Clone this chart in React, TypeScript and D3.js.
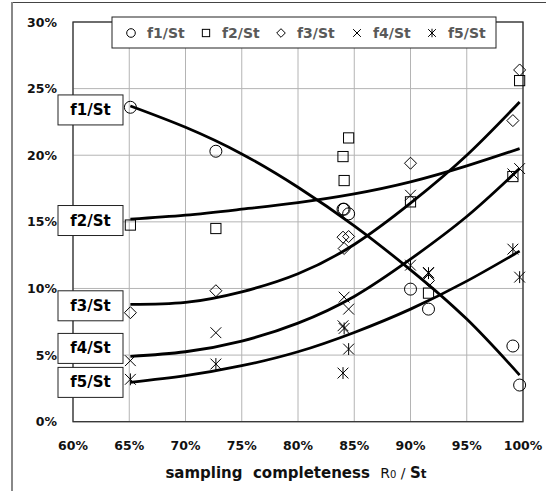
import * as d3 from 'd3';

// sample positions (sampling completeness, %)
const samples = [65.1, 72.7, 84.0, 84.1, 84.5, 90.0, 91.6, 99.1, 99.7];
const f1 = [23.6, 20.3, 15.95, 15.95, 15.6, 9.95, 8.45, 5.68, 2.75];
const f2 = [14.76, 14.5, 19.9, 18.1, 21.3, 16.5, 9.65, 18.4, 25.6];
const f3 = [8.18, 9.83, 13.85, 13.0, 13.9, 19.4, 10.6, 22.6, 26.4];
const f4 = [4.58, 6.68, 7.2, 9.35, 8.45, 17.0, 11.2, 18.6, 19.0];
const f5 = [3.18, 4.33, 3.65, 7.0, 5.45, 11.75, 11.15, 12.95, 10.85];

// trend curves
const trendX = [65.1, 70, 75, 80, 85, 90, 95, 99.7];
const t1 = [23.7, 22.1, 20.1, 17.6, 14.7, 11.4, 7.7, 3.5];
const t2 = [15.2, 15.5, 15.95, 16.45, 17.1, 18.0, 19.2, 20.5];
const t3 = [8.8, 8.95, 9.75, 11.1, 13.3, 16.4, 20.0, 24.0];
const t4 = [4.9, 5.25, 6.05, 7.4, 9.4, 12.2, 15.4, 19.0];
const t5 = [2.95, 3.45, 4.2, 5.25, 6.7, 8.45, 10.55, 12.8];

const seriesNames = ['f1/St', 'f2/St', 'f3/St', 'f4/St', 'f5/St'];
const markerKinds = ['circle', 'square', 'diamond', 'cross', 'star'];
const labelAt = [23.4, 15.1, 8.7, 5.5, 2.95];

const xTicks = [60, 65, 70, 75, 80, 85, 90, 95, 100];
const yTicks = [0, 5, 10, 15, 20, 25, 30];

const W = 546;
const H = 491;
const m = { left: 73, right: 23, top: 22, bottom: 69 };
const FONT = 'DejaVu Sans, sans-serif';

const Marker = ({ kind, x, y, s }: { kind: string; x: number; y: number; s: number }) => {
  const p = { stroke: '#000', strokeWidth: 1, fill: 'none' };
  if (kind === 'circle') return <circle cx={x} cy={y} r={s} {...p} />;
  if (kind === 'square')
    return <rect x={x - s * 0.85} y={y - s * 0.85} width={s * 1.7} height={s * 1.7} {...p} />;
  if (kind === 'diamond')
    return <path d={`M${x},${y - s}L${x + s},${y}L${x},${y + s}L${x - s},${y}Z`} {...p} />;
  const d = s * 0.9;
  const xs = `M${x - d},${y - d}L${x + d},${y + d}M${x - d},${y + d}L${x + d},${y - d}`;
  if (kind === 'cross') return <path d={xs} {...p} />;
  return <path d={`${xs}M${x},${y - d * 1.1}L${x},${y + d * 1.1}`} {...p} />;
};

export default function App() {
  const x = d3.scaleLinear().domain([60, 100]).range([m.left, W - m.right]);
  const y = d3.scaleLinear().domain([0, 30]).range([H - m.bottom - 0.3, m.top]);
  const points = [f1, f2, f3, f4, f5];
  const trends = [t1, t2, t3, t4, t5];
  const line = d3
    .line<number>()
    .x((_, i) => x(trendX[i]))
    .y((v) => y(v))
    .curve(d3.curveNatural);

  const legendX = [131, 206, 281, 357, 432];

  return (
    <svg width={W} height={H} style={{ position: 'absolute', left: 0, top: 0, background: '#fff' }}>
      {/* outer frame */}
      <line x1={12} x2={W} y1={2.5} y2={2.5} stroke="#444" strokeWidth={1.2} />
      <line x1={12} x2={12} y1={2} y2={H} stroke="#888" strokeWidth={2} />

      {/* grid */}
      {xTicks.map((t) => (
        <line key={'gx' + t} x1={x(t)} x2={x(t)} y1={y(0)} y2={y(30)} stroke="#b4b4b4" strokeWidth={1} />
      ))}
      {yTicks.map((t) => (
        <line key={'gy' + t} x1={x(60)} x2={x(100)} y1={y(t)} y2={y(t)} stroke="#b4b4b4" strokeWidth={1} />
      ))}
      <rect
        x={x(60)}
        y={y(30)}
        width={x(100) - x(60)}
        height={y(0) - y(30)}
        fill="none"
        stroke="#333"
        strokeWidth={1.3}
      />

      {/* tick labels */}
      {yTicks.map((t) => (
        <text
          key={'yl' + t}
          x={57}
          y={y(t)}
          textAnchor="end"
          dominantBaseline="central"
          fontFamily={FONT}
          fontWeight="bold"
          fontSize={12.5}
          fill="#111"
        >
          {t}%
        </text>
      ))}
      {xTicks.map((t) => (
        <text
          key={'xl' + t}
          x={x(t)}
          y={445}
          textAnchor="middle"
          dominantBaseline="central"
          fontFamily={FONT}
          fontWeight="bold"
          fontSize={12.5}
          fill="#111"
        >
          {t}%
        </text>
      ))}

      {/* axis title */}
      <text x={296} y={478} textAnchor="middle" fontFamily={FONT} fill="#111" style={{ whiteSpace: 'pre' }}>
        <tspan fontWeight="bold" fontSize={15}>
          {'sampling  completeness  '}
        </tspan>
        <tspan fontSize={14}>R</tspan>
        <tspan fontSize={10}>0</tspan>
        <tspan fontSize={14}>{' / '}</tspan>
        <tspan fontWeight="bold" fontSize={15}>
          S
        </tspan>
        <tspan fontWeight="bold" fontSize={12}>
          t
        </tspan>
      </text>

      {/* trend lines */}
      {trends.map((t, i) => (
        <path key={'t' + i} d={line(t) ?? ''} fill="none" stroke="#000" strokeWidth={2.8} />
      ))}

      {/* data markers */}
      {points.map((vals, si) =>
        vals.map((v, i) => (
          <Marker key={`m${si}-${i}`} kind={markerKinds[si]} x={x(samples[i])} y={y(v)} s={6} />
        )),
      )}

      {/* series labels */}
      {seriesNames.map((n, i) => (
        <g key={'lb' + i}>
          <rect x={58} y={y(labelAt[i]) - 15} width={65} height={30} fill="#fff" stroke="#222" strokeWidth={1} />
          <text
            x={90.5}
            y={y(labelAt[i])}
            textAnchor="middle"
            dominantBaseline="central"
            fontFamily={FONT}
            fontWeight="bold"
            fontSize={15}
            fill="#000"
          >
            {n}
          </text>
        </g>
      ))}

      {/* legend */}
      <rect x={112} y={17} width={384} height={31} fill="#fff" stroke="#222" strokeWidth={1} />
      {seriesNames.map((n, i) => (
        <g key={'lg' + i}>
          <Marker kind={markerKinds[i]} x={legendX[i]} y={33} s={4.3} />
          <text
            x={legendX[i] + 16}
            y={33}
            dominantBaseline="central"
            fontFamily={FONT}
            fontWeight="bold"
            fontSize={14}
            fill="#595959"
          >
            {n}
          </text>
        </g>
      ))}
    </svg>
  );
}
